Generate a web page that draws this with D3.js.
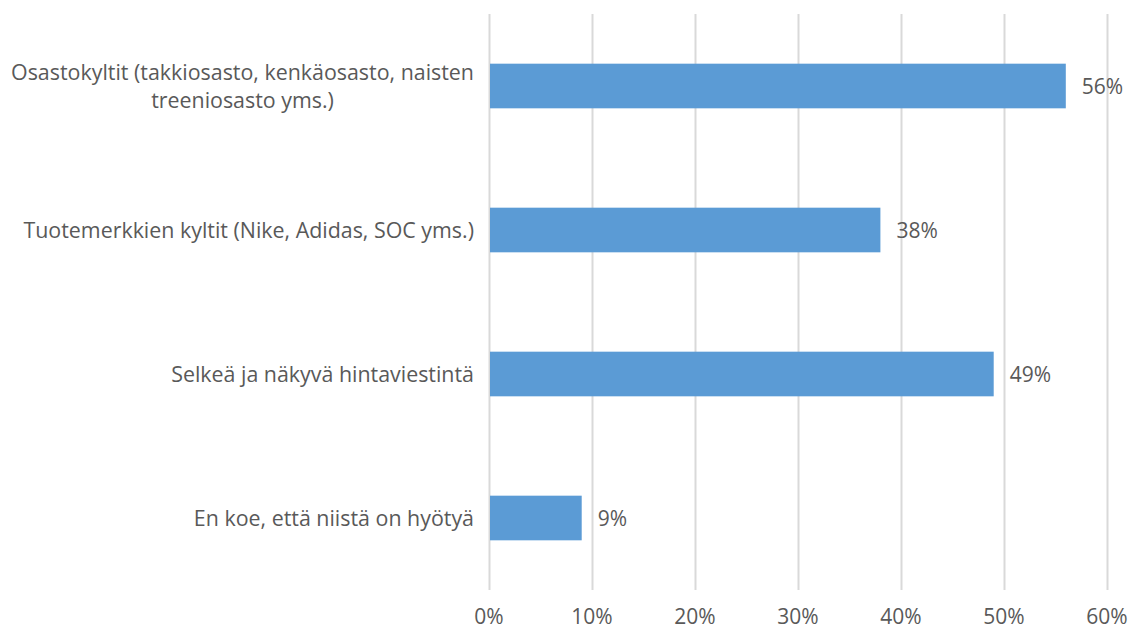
<!DOCTYPE html>
<html><head><meta charset="utf-8">
<script src="https://cdn.jsdelivr.net/npm/d3@7"></script>
<style>body{margin:0;background:#fff}svg{display:block}text{font-family:"Open Sans",sans-serif;fill:#595959}</style>
</head><body><svg id="c" width="1144" height="630"></svg>
<script>
const categories = [
  ["Osastokyltit (takkiosasto, kenkäosasto, naisten", "treeniosasto yms.)"],
  ["Tuotemerkkien kyltit (Nike, Adidas, SOC yms.)"],
  ["Selkeä ja näkyvä hintaviestintä"],
  ["En koe, että niistä on hyötyä"]
];
const values = [56, 38, 49, 9];
const ticks = [0, 10, 20, 30, 40, 50, 60];

const FS = 21.4;
const svg = d3.select("#c");
const x = d3.scaleLinear().domain([0, 60]).range([489, 1107]);
const y = d3.scaleBand().domain(d3.range(categories.length)).range([14, 590]).paddingInner(0.69).paddingOuter(0.345);

svg.append("g").selectAll("line").data(ticks).join("line")
  .attr("x1", d => x(d) + 0.5).attr("x2", d => x(d) + 0.5)
  .attr("y1", 14).attr("y2", 590)
  .attr("stroke", "#d9d9d9").attr("stroke-width", 2);

svg.append("g").selectAll("text").data(ticks).join("text")
  .attr("x", d => x(d)).attr("y", 623.5)
  .attr("text-anchor", "middle").attr("font-size", 21)
  .text(d => d + "%");

svg.append("g").selectAll("rect").data(values).join("rect")
  .attr("x", x(0) + 1).attr("y", (d, i) => y(i))
  .attr("width", d => x(d) - x(0) - 1).attr("height", y.bandwidth())
  .attr("fill", "#5b9bd5");

svg.append("g").selectAll("text").data(values).join("text")
  .attr("x", d => x(d) + 16).attr("y", (d, i) => y(i) + y.bandwidth() / 2 + 7.5)
  .attr("font-size", 21)
  .text(d => d + "%");

const lab = svg.append("g").selectAll("text").data(categories).join("text")
  .attr("text-anchor", "middle").attr("font-size", FS);
lab.each(function(lines, i) {
  const t = d3.select(this);
  const n = lines.length;
  lines.forEach((l, j) => {
    t.append("tspan").attr("x", 0).attr("y", 7.5 + (j - (n - 1) / 2) * 28).text(l);
  });
  let w = 0;
  t.selectAll("tspan").each(function() { w = Math.max(w, this.getComputedTextLength()); });
  t.attr("transform", `translate(${474 - w / 2},${y(i) + y.bandwidth() / 2})`);
});
</script></body></html>
